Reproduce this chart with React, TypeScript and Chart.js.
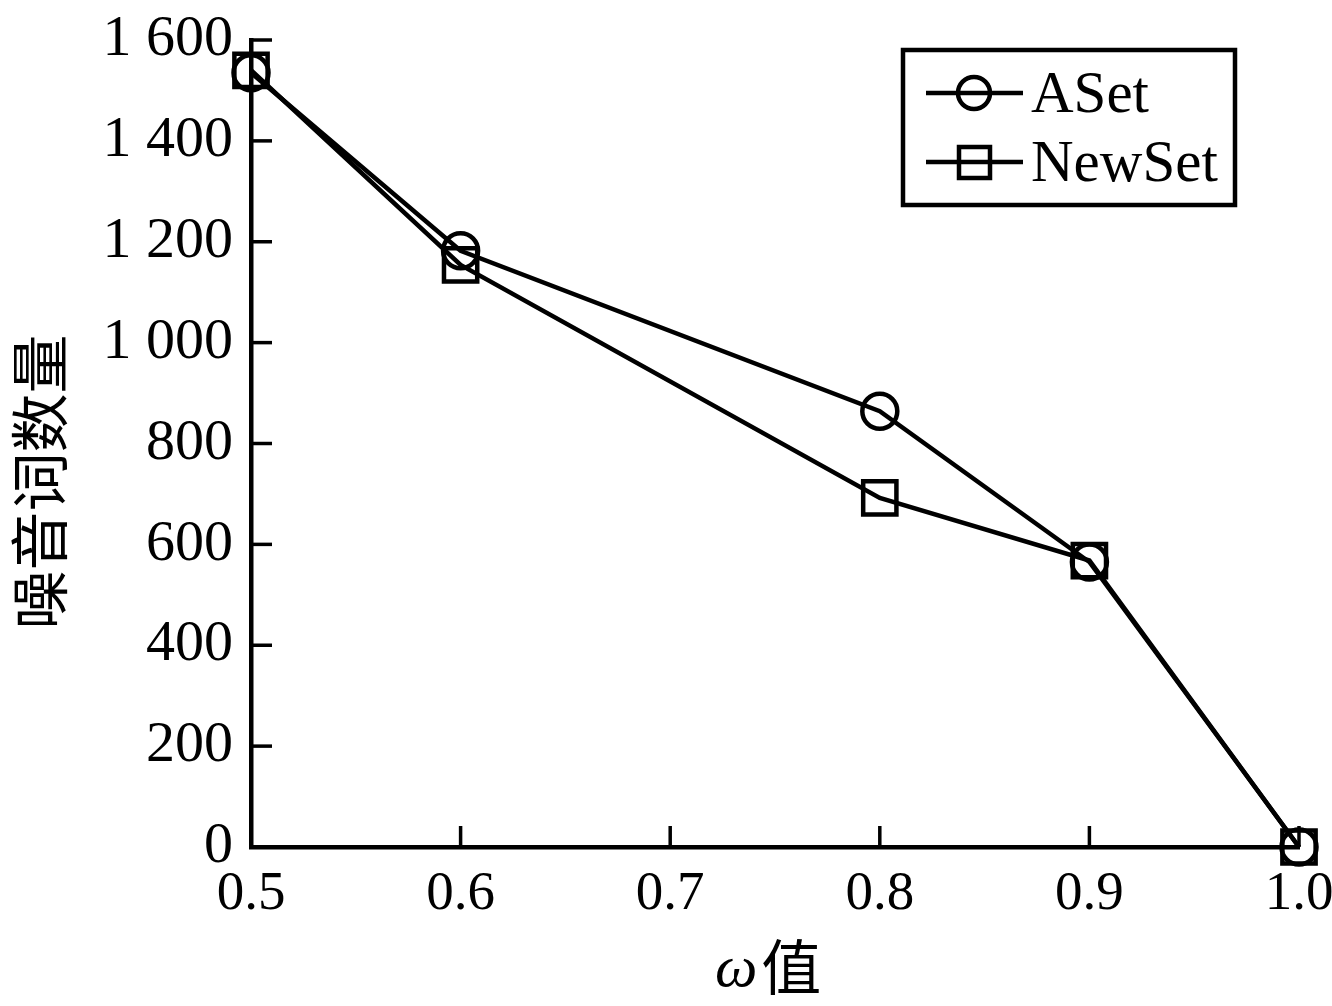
import { useEffect, useRef } from 'react';
import { Chart, registerables } from 'chart.js';

Chart.register(...registerables);

const omegaValues = [0.5, 0.6, 0.8, 0.9, 1.0];
const asetValues = [1535, 1182, 864, 565, 0];
const newSetValues = [1540, 1154, 692, 568, 0];
const seriesNames = ['ASet', 'NewSet'];
const xTickValues = [0.5, 0.6, 0.7, 0.8, 0.9, 1.0];
const xTickLabels = ['0.5', '0.6', '0.7', '0.8', '0.9', '1.0'];
const yTickValues = [0, 200, 400, 600, 800, 1000, 1200, 1400, 1600];
const yTickLabels = ['0', '200', '400', '600', '800', '1 000', '1 200', '1 400', '1 600'];
const xTitleSymbol = 'ω';
const xTitleText = '值';
const yTitleText = '噪音词数量';

const SERIF = '"Liberation Serif", "DejaVu Serif", serif';
const CJK = '"Noto Sans CJK SC", sans-serif';

const decorPlugin = {
  id: 'decor',
  afterDatasetsDraw(chart: any) {
    const ctx: CanvasRenderingContext2D = chart.ctx;
    const { left, bottom } = chart.chartArea;
    const xs = chart.scales.x;
    const ys = chart.scales.y;
    ctx.save();
    ctx.strokeStyle = '#000';
    ctx.fillStyle = '#000';
    // inward ticks
    ctx.lineWidth = 3.5;
    xTickValues.forEach((v) => {
      const px = xs.getPixelForValue(v);
      ctx.beginPath();
      ctx.moveTo(px, bottom);
      ctx.lineTo(px, bottom - 21);
      ctx.stroke();
    });
    yTickValues.forEach((v) => {
      const py = ys.getPixelForValue(v);
      ctx.beginPath();
      ctx.moveTo(left, py);
      ctx.lineTo(left + 21, py);
      ctx.stroke();
    });

    // legend
    const bx = 903, by = 50, bw = 332, bh = 155;
    ctx.lineWidth = 4.5;
    ctx.strokeRect(bx, by, bw, bh);
    const rows = [93, 162];
    ctx.font = `59px ${SERIF}`;
    ctx.textBaseline = 'alphabetic';
    ctx.textAlign = 'left';
    chart.data.datasets.forEach((ds: any, i: number) => {
      const cy = rows[i];
      ctx.lineWidth = 4.5;
      ctx.beginPath();
      ctx.moveTo(926, cy);
      ctx.lineTo(1023, cy);
      ctx.stroke();
      if (ds.pointStyle === 'circle') {
        ctx.fillStyle = '#fff';
        ctx.beginPath();
        ctx.arc(974, cy, 16, 0, Math.PI * 2);
        ctx.fill();
        ctx.beginPath();
        ctx.moveTo(958, cy);
        ctx.lineTo(990, cy);
        ctx.stroke();
        ctx.beginPath();
        ctx.arc(974, cy, 16, 0, Math.PI * 2);
        ctx.stroke();
      } else {
        ctx.fillStyle = '#fff';
        ctx.fillRect(959, cy - 15, 31, 31);
        ctx.beginPath();
        ctx.moveTo(959, cy);
        ctx.lineTo(990, cy);
        ctx.stroke();
        ctx.strokeRect(959, cy - 15, 31, 31);
      }
      ctx.fillStyle = '#000';
      ctx.fillText(ds.label, 1031, cy + 19);
    });

    // x title
    ctx.textBaseline = 'alphabetic';
    ctx.font = `italic 60px ${SERIF}`;
    const w1 = ctx.measureText(xTitleSymbol).width;
    const startX = 715;
    ctx.fillText(xTitleSymbol, startX, 986);
    ctx.font = `60px ${CJK}`;
    ctx.fillText(xTitleText, startX + w1 + 4, 990);

    // y title
    ctx.save();
    ctx.translate(40, 482);
    ctx.rotate(-Math.PI / 2);
    ctx.font = `59px ${CJK}`;
    ctx.textAlign = 'center';
    ctx.textBaseline = 'middle';
    ctx.fillText(yTitleText, 0, 0);
    ctx.restore();

    ctx.restore();
  },
};

export default function App() {
  const canvasRef = useRef<HTMLCanvasElement | null>(null);

  useEffect(() => {
    document.body.style.margin = '0';
    const canvas = canvasRef.current;
    if (!canvas) return;
    const chart = new Chart(canvas, {
      type: 'line',
      data: {
        labels: omegaValues,
        datasets: [
          {
            label: seriesNames[0],
            data: omegaValues.map((x, i) => ({ x, y: asetValues[i] })),
            borderColor: '#000',
            backgroundColor: 'rgba(0,0,0,0)',
            borderWidth: 4.5,
            pointStyle: 'circle',
            pointRadius: 17.5,
            pointBorderWidth: 4.5,
            pointBorderColor: '#000',
            pointBackgroundColor: 'rgba(0,0,0,0)',
            fill: false,
            tension: 0,
            clip: false,
          },
          {
            label: seriesNames[1],
            data: omegaValues.map((x, i) => ({ x, y: newSetValues[i] })),
            borderColor: '#000',
            backgroundColor: 'rgba(0,0,0,0)',
            borderWidth: 4.5,
            pointStyle: 'rect',
            pointRadius: 23.5,
            pointBorderWidth: 4.5,
            pointBorderColor: '#000',
            pointBackgroundColor: 'rgba(0,0,0,0)',
            fill: false,
            tension: 0,
            clip: false,
          },
        ],
      },
      options: {
        animation: false,
        responsive: false,
        maintainAspectRatio: false,
        layout: { padding: { left: 0, right: 33, top: 40, bottom: 0 } },
        plugins: {
          legend: { display: false },
          tooltip: { enabled: false },
        },
        scales: {
          x: {
            type: 'linear',
            min: 0.5,
            max: 1.0,
            afterBuildTicks: (s: any) => {
              s.ticks = xTickValues.map((v) => ({ value: v }));
            },
            afterFit: (s: any) => {
              s.height = 159;
              s.paddingLeft = 0;
              s.paddingRight = 0;
            },
            grid: { display: false, drawTicks: false },
            border: { display: true, color: '#000', width: 4.5 },
            ticks: {
              color: '#000',
              padding: 15,
              maxRotation: 0,
              autoSkip: false,
              font: { family: SERIF, size: 55 },
              callback: (_v: any, i: number) => xTickLabels[i],
            },
          },
          y: {
            type: 'linear',
            min: 0,
            max: 1600,
            afterBuildTicks: (s: any) => {
              s.ticks = yTickValues.map((v) => ({ value: v }));
            },
            afterFit: (s: any) => {
              s.width = 251;
              s.paddingTop = 0;
              s.paddingBottom = 0;
            },
            grid: { display: false, drawTicks: false },
            border: { display: true, color: '#000', width: 4.5 },
            ticks: {
              color: '#000',
              padding: 18,
              autoSkip: false,
              font: { family: SERIF, size: 58 },
              callback: (_v: any, i: number) => yTickLabels[i],
            },
          },
        },
      },
      plugins: [decorPlugin],
    });
    return () => chart.destroy();
  }, []);

  return (
    <div style={{ width: 1332, height: 1006 }}>
      <canvas ref={canvasRef} width={1332} height={1006} style={{ display: 'block' }} />
    </div>
  );
}
